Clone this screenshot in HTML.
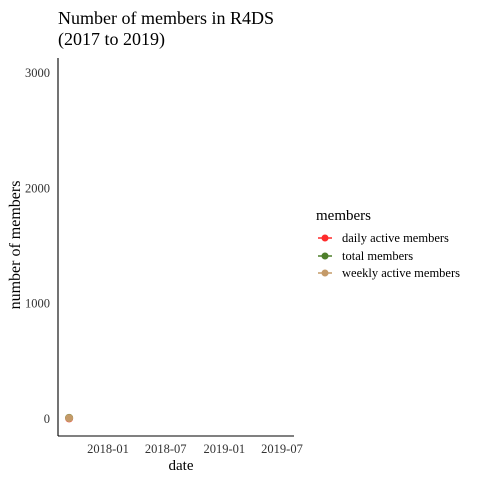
<!DOCTYPE html>
<html><head><meta charset="utf-8"><style>
body{margin:0;background:#fff;}
svg text{font-family:"Liberation Serif",serif;}
</style></head><body>
<svg width="480" height="480" id="c">
<text x="58" y="24" font-size="18" fill="#000">Number of members in R4DS</text>
<text x="58" y="45" font-size="18" fill="#000">(2017 to 2019)</text>
<line x1="58" y1="58" x2="58" y2="436" stroke="#000" stroke-width="1.1"/>
<line x1="58" y1="436" x2="294" y2="436" stroke="#000" stroke-width="1.1"/>
<g id="yt"></g><g id="xt"></g><g id="pts"></g>
<text x="181" y="470" font-size="15" text-anchor="middle">date</text>
<text transform="translate(20,245) rotate(-90)" font-size="16" text-anchor="middle">number of members</text>
<g>
<text x="316" y="220" font-size="15">members</text>
<g><line x1="318" y1="238" x2="332" y2="238" stroke="#ff2b2b" stroke-width="1.5"/><circle cx="325" cy="238" r="3.5" fill="#ff2b2b"/><text x="342" y="242" font-size="12.5">daily active members</text></g>
<g><line x1="318" y1="256" x2="332" y2="256" stroke="#4e7f2b" stroke-width="1.5"/><circle cx="325" cy="256" r="3.5" fill="#4e7f2b"/><text x="342" y="260" font-size="12.5">total members</text></g>
<g><line x1="318" y1="273" x2="332" y2="273" stroke="#c49a68" stroke-width="1.5"/><circle cx="325" cy="273" r="3.5" fill="#c49a68"/><text x="342" y="277" font-size="12.5">weekly active members</text></g>
</g>
</svg>
<script>
const yTicks=[0,1000,2000,3000];
const xTickLabels=["2018-01","2018-07","2019-01","2019-07"];
const dates=["2017-09-01","2017-09-01","2017-09-01"];
const values=[5,10,8];
const seriesNames=["daily","total","weekly"];
const colors={daily:"#ff2b2b",total:"#4e7f2b",weekly:"#c49a68"};
const ns="http://www.w3.org/2000/svg";
const t0=Date.parse("2018-01-01"),t1=Date.parse("2019-07-01");
function xs(d){return 108+(Date.parse(d)-t0)/(t1-t0)*(282-108);}
function ys(v){return 419-v*0.11533;}
const yt=document.getElementById('yt');
yTicks.forEach(v=>{const t=document.createElementNS(ns,'text');
t.setAttribute('x',50);t.setAttribute('y',ys(v)+4);t.setAttribute('text-anchor','end');t.setAttribute('font-size','12.5');t.setAttribute('fill','#333');


t.textContent=v;yt.appendChild(t);});
const xt=document.getElementById('xt');
xTickLabels.forEach(d=>{const t=document.createElementNS(ns,'text');
t.setAttribute('x',xs(d+"-01"));t.setAttribute('y',453);t.setAttribute('text-anchor','middle');t.setAttribute('font-size','12.5');t.setAttribute('fill','#333');


t.textContent=d;xt.appendChild(t);});
const pts=document.getElementById('pts');
values.forEach((v,i)=>{const c=document.createElementNS(ns,'circle');
c.setAttribute('cx',xs(dates[i]));c.setAttribute('cy',ys(v));c.setAttribute('r',4);c.setAttribute('fill',colors[seriesNames[i]]);


pts.appendChild(c);});
</script>
</body></html>
